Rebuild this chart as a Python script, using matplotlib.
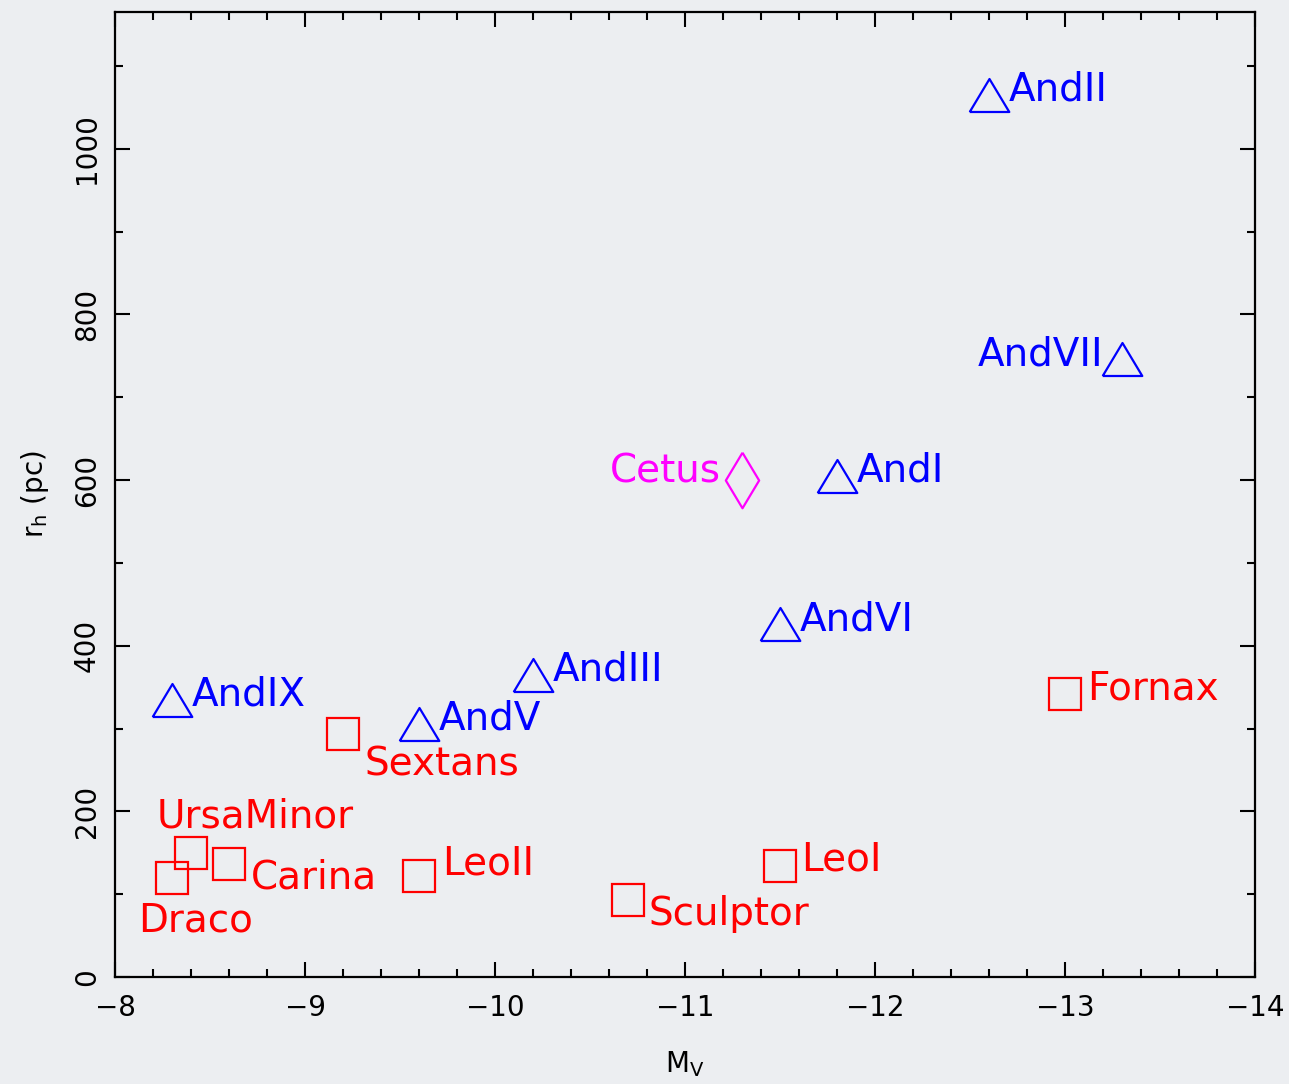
import matplotlib
matplotlib.use("Agg")
import matplotlib.pyplot as plt
from matplotlib.ticker import MultipleLocator

plt.rcParams['font.family'] = ['DejaVu Sans']
plt.rcParams['mathtext.default'] = 'regular'

# Data
dsph_names = ["Draco", "UrsaMinor", "Carina", "Sextans", "LeoII", "Sculptor", "LeoI", "Fornax"]
dsph_mv = [-8.3, -8.4, -8.6, -9.2, -9.6, -10.7, -11.5, -13.0]
dsph_rh = [120, 150, 136, 293, 122, 93, 134, 342]

and_names = ["AndIX", "AndV", "AndIII", "AndVI", "AndI", "AndVII", "AndII"]
and_mv = [-8.3, -9.6, -10.2, -11.5, -11.8, -13.3, -12.6]
and_rh = [335, 306, 365, 426, 605, 746, 1065]

cetus_names = ["Cetus"]
cetus_mv = [-11.3]
cetus_rh = [600]

# label offsets in pixels (dx, dy of baseline) and horizontal alignment
dsph_off = {"Draco": (-34, -54, 'left'), "UrsaMinor": (-34, 25, 'left'),
            "Carina": (22, -24, 'left'), "Sextans": (22, -41, 'left'),
            "LeoII": (23, 1, 'left'), "Sculptor": (21, -25, 'left'),
            "LeoI": (21, -4, 'left'), "Fornax": (22, -6, 'left')}
and_off = {"AndVII": (-19, -6, 'right')}
cetus_off = {"Cetus": (-21, -2, 'right')}

bg = '#eceef1'
fig = plt.figure(figsize=(12.89, 10.84), dpi=100, facecolor=bg)
W, H = 1289, 1084
ax = fig.add_axes([115 / W, 1 - 977 / H, 1140 / W, 965 / H], facecolor=bg)

ax.set_xlim(-8, -14)
ax.set_ylim(0, 1165)

tri = [(-0.6, -0.5), (0.6, -0.5), (0.0, 0.5), (-0.6, -0.5)]
dia = [(0, 0.5), (0.3, 0), (0, -0.5), (-0.3, 0), (0, 0.5)]

ax.plot(dsph_mv, dsph_rh, linestyle='none', marker='s', ms=23.5,
        mfc='none', mec='#ff0000', mew=1.6)
ax.plot(and_mv, and_rh, linestyle='none', marker=tri, ms=28.5,
        mfc='none', mec='#0000ff', mew=1.6)
ax.plot(cetus_mv, cetus_rh, linestyle='none', marker=dia, ms=40,
        mfc='none', mec='#ff00ff', mew=1.6)

fs = 28
for n, x, y in zip(dsph_names, dsph_mv, dsph_rh):
    dx, dy, ha = dsph_off[n]
    ax.annotate(n, (x, y), xytext=(dx, dy), textcoords='offset pixels',
                ha=ha, va='baseline', color='#ff0000', fontsize=fs)
for n, x, y in zip(and_names, and_mv, and_rh):
    dx, dy, ha = and_off.get(n, (20, -6, 'left'))
    ax.annotate(n, (x, y), xytext=(dx, dy), textcoords='offset pixels',
                ha=ha, va='baseline', color='#0000ff', fontsize=fs)
for n, x, y in zip(cetus_names, cetus_mv, cetus_rh):
    dx, dy, ha = cetus_off[n]
    ax.annotate(n, (x, y), xytext=(dx, dy), textcoords='offset pixels',
                ha=ha, va='baseline', color='#ff00ff', fontsize=fs)

ax.xaxis.set_major_locator(MultipleLocator(1))
ax.xaxis.set_minor_locator(MultipleLocator(0.2))
ax.yaxis.set_major_locator(MultipleLocator(200))
ax.yaxis.set_minor_locator(MultipleLocator(100))
ax.tick_params(which='both', direction='in', top=True, right=True, width=1.5,
               color='black')
ax.tick_params(which='major', length=11)
ax.tick_params(which='minor', length=5.5)
ax.tick_params(axis='x', which='major', labelsize=20, pad=12)
ax.tick_params(axis='y', which='major', labelsize=20, pad=10, labelrotation=90)
for lbl in ax.get_yticklabels():
    lbl.set_va('center')
for s in ax.spines.values():
    s.set_linewidth(1.6)

ax.set_xlabel('M$_V$', fontsize=20, labelpad=20)
ax.set_ylabel('r$_h$ (pc)', fontsize=20, labelpad=16)

fig.savefig('out.png', dpi=100, facecolor=bg)
